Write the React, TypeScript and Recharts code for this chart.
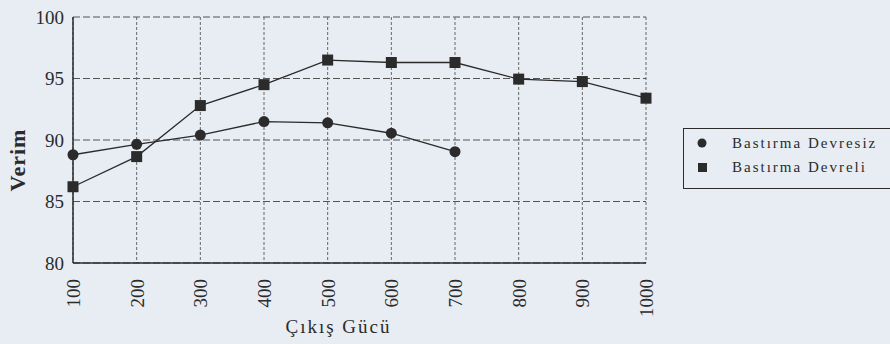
import React from "react";
import { LineChart, Line, XAxis, YAxis, CartesianGrid } from "recharts";

const categories = [100, 200, 300, 400, 500, 600, 700, 800, 900, 1000];
const devresiz: (number | null)[] = [88.8, 89.65, 90.4, 91.5, 91.4, 90.55, 89.05, null, null, null];
const devreli = [86.2, 88.65, 92.8, 94.5, 96.5, 96.3, 96.3, 94.95, 94.75, 93.4];
const yTicks = [80, 85, 90, 95, 100];
const seriesNames = ["Bastırma Devresiz", "Bastırma Devreli"];
const xTitle = "Çıkış Gücü";
const yTitle = "Verim";

const data = categories.map((c, i) => ({ x: c, a: devresiz[i], b: devreli[i] }));

const FONT = "'Liberation Serif', 'DejaVu Serif', serif";
const INK = "#2b2b2b";

const SquareDot = (props: any) => {
  const { cx, cy } = props;
  if (cx == null || cy == null) return null;
  return <rect x={cx - 5.5} y={cy - 5.5} width={11} height={11} fill={INK} />;
};
const CircleDot = (props: any) => {
  const { cx, cy, value } = props;
  if (cx == null || cy == null || value == null) return null;
  return <circle cx={cx} cy={cy} r={5.5} fill={INK} />;
};

const XTick = (props: any) => {
  const { x, y, payload } = props;
  return (
    <text
      x={0}
      y={0}
      transform={`translate(${x + 7},${y + 8}) rotate(-90)`}
      textAnchor="end"
      fontFamily={FONT}
      fontSize={19}
      fill={INK}
    >
      {payload.value}
    </text>
  );
};

const XLabel = (props: any) => {
  const { viewBox } = props;
  const cx = viewBox.x + viewBox.width / 2 - 21;
  return (
    <text x={cx} y={333} textAnchor="middle" fontFamily={FONT} fontSize={19} letterSpacing={2} fill={INK}>
      {xTitle}
    </text>
  );
};

const YLabel = (props: any) => {
  const { viewBox } = props;
  const cy = viewBox.y + viewBox.height / 2 + 20;
  return (
    <text
      x={0}
      y={0}
      transform={`translate(25,${cy}) rotate(-90)`}
      textAnchor="middle"
      fontFamily={FONT}
      fontSize={22}
      fontWeight="bold"
      letterSpacing={1}
      fill={INK}
    >
      {yTitle}
    </text>
  );
};

const LegendBox = () => (
  <div
    style={{
      position: "absolute",
      left: 683,
      top: 128,
      border: `1px solid ${INK}`,
      width: 210,
      height: 61,
      boxSizing: "border-box",
      fontFamily: FONT,
      fontSize: 15,
      color: INK,
      padding: "2px 0 0 12px",
      lineHeight: "24px",
    }}
  >
    {seriesNames.map((n, i) => (
      <div key={n} style={{ display: "flex", alignItems: "center" }}>
        <svg width={14} height={14} style={{ marginRight: 22 }}>
          {i === 0 ? (
            <circle cx={6} cy={7} r={4.5} fill={INK} />
          ) : (
            <rect x={2} y={3} width={9} height={9} fill={INK} />
          )}
        </svg>
        <span style={{ letterSpacing: 2 }}>{n}</span>
      </div>
    ))}
  </div>
);

export default function App() {
  return (
    <div style={{ position: "absolute", left: 0, top: 0, width: 890, height: 344, background: "#e7edf3", overflow: "hidden" }}>
      <LineChart
        width={890}
        height={344}
        data={data}
        margin={{ top: 17, right: 244, bottom: 0, left: 13 }}
      >
        <CartesianGrid horizontal={true} vertical={false} strokeDasharray="7 3" stroke="#555" strokeWidth={1} />
        <CartesianGrid horizontal={false} vertical={true} strokeDasharray="3 2" stroke="#666" strokeWidth={1} />
        <XAxis
          dataKey="x"
          type="category"
          tick={<XTick />}
          tickLine={false}
          axisLine={{ stroke: INK, strokeWidth: 1.5 }}
          interval={0}
          height={81}
          label={<XLabel />}
        />
        <YAxis
          type="number"
          domain={[80, 100]}
          ticks={yTicks}
          width={60}
          tickLine={false}
          axisLine={{ stroke: INK, strokeWidth: 1.5 }}
          tick={{ fontFamily: FONT, fontSize: 19, fill: INK }}
          tickMargin={3}
          label={<YLabel />}
        />
        <Line
          dataKey="a"
          name={seriesNames[0]}
          stroke={INK}
          strokeWidth={1.3}
          dot={<CircleDot />}
          activeDot={false}
          isAnimationActive={false}
        />
        <Line
          dataKey="b"
          name={seriesNames[1]}
          stroke={INK}
          strokeWidth={1.3}
          dot={<SquareDot />}
          activeDot={false}
          isAnimationActive={false}
        />
      </LineChart>
      <LegendBox />
    </div>
  );
}
